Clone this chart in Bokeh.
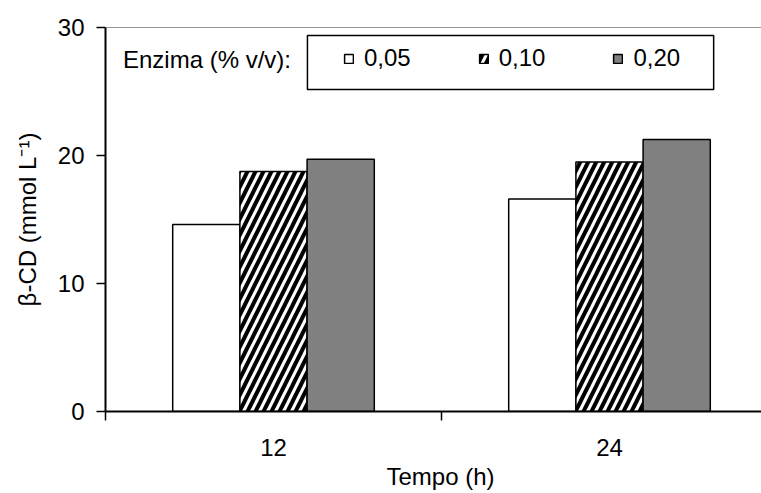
import numpy as np
from bokeh.plotting import figure
from bokeh.models import (Range1d, FixedTicker, Legend, LegendItem, Span,
                          BoxAnnotation, Label, Title)
from bokeh.embed import file_html
from bokeh.resources import INLINE

# ---- data ----
categories = ["12", "24"]            # Tempo (h)
series_names = ["0,05", "0,10", "0,20"]  # Enzima (% v/v)
v_005 = [14.6, 16.6]
v_010 = [18.75, 19.5]
v_020 = [19.7, 21.25]
y_ticks = [0, 10, 20, 30]
x_title = "Tempo (h)"
y_title = "β-CD (mmol L⁻¹)"
legend_title = "Enzima (% v/v):"

FONT = "Liberation Sans"
FS = "24px"

p = figure(width=761, height=493, output_backend="svg", toolbar_location=None,
           x_range=Range1d(0, 656 / 336), y_range=Range1d(0, 30),
           min_border_left=105, min_border_right=0, min_border_top=27,
           min_border_bottom=82)
p.outline_line_color = None
p.xgrid.visible = False
p.ygrid.visible = False
p.background_fill_color = "white"
p.border_fill_color = "white"

centers = np.arange(len(categories)) + 0.5
w = 0.2
common = dict(width=w, line_color="black", line_width=1.5)
r1 = p.vbar(x=centers - w, top=v_005, fill_color="white", **common)
r2 = p.vbar(x=centers, top=v_010, fill_color="white", hatch_pattern="/",
            hatch_color="black", hatch_weight=4, hatch_scale=16, **common)
r3 = p.vbar(x=centers + w, top=v_020, fill_color="#808080", **common)

# x axis
xa = p.xaxis[0]
xa.ticker = FixedTicker(ticks=list(centers),
                        minor_ticks=list(range(len(categories) + 1)))
xa.major_label_overrides = {float(c): lab for c, lab in zip(centers, categories)}
xa.major_tick_out = 0
xa.major_tick_in = 0
xa.minor_tick_out = 9
xa.minor_tick_in = 0
xa.minor_tick_line_width = 1.5
xa.minor_tick_line_color = "black"
xa.axis_line_width = 2
xa.axis_line_color = "black"
xa.major_label_standoff = 18
xa.major_label_text_font = FONT
xa.major_label_text_font_size = FS
xa.major_label_text_color = "black"

# y axis
ya = p.yaxis[0]
ya.ticker = FixedTicker(ticks=y_ticks, minor_ticks=[])
ya.major_tick_out = 9
ya.major_tick_in = 0
ya.major_tick_line_width = 1.5
ya.major_tick_line_color = "black"
ya.minor_tick_out = 0
ya.axis_line_width = 2
ya.axis_line_color = "black"
ya.major_label_standoff = 12
ya.major_label_text_font = FONT
ya.major_label_text_font_size = FS
ya.major_label_text_color = "black"
ya.axis_label = y_title
ya.axis_label_text_font = FONT
ya.axis_label_text_font_size = FS
ya.axis_label_text_font_style = "normal"
ya.axis_label_text_color = "black"
ya.axis_label_standoff = 14

# x axis title (the original frame runs past the right edge, so it is
# placed from the left rather than centred on the visible frame)
p.add_layout(Title(text=x_title, align="left", offset=281, standoff=4,
                   text_font=FONT, text_font_size=FS,
                   text_font_style="normal", text_color="black"), "below")

# top frame line
p.add_layout(Span(location=30, dimension="width", line_color="#333333",
                  line_width=1.2))

# legend box
p.add_layout(BoxAnnotation(left=0.601, right=1.810, top=29.38, bottom=25.16,
                           fill_color="white", fill_alpha=1.0,
                           line_color="black", line_width=1.5, line_alpha=1.0))

legend = Legend(items=[LegendItem(label=n, renderers=[r])
                       for n, r in zip(series_names, [r1, r2, r3])],
                orientation="horizontal", location=(238, 339),
                border_line_color=None, background_fill_alpha=0,
                padding=0, margin=0, spacing=67, label_standoff=10,
                glyph_width=11, glyph_height=11,
                label_text_font=FONT, label_text_font_size=FS,
                label_text_color="black")
p.add_layout(legend)

p.add_layout(Label(x=0.052, y=27.5, text=legend_title, text_font=FONT,
                   text_font_size=FS, text_color="black",
                   text_baseline="alphabetic"))

open("out.html", "w").write(file_html(p, INLINE))
